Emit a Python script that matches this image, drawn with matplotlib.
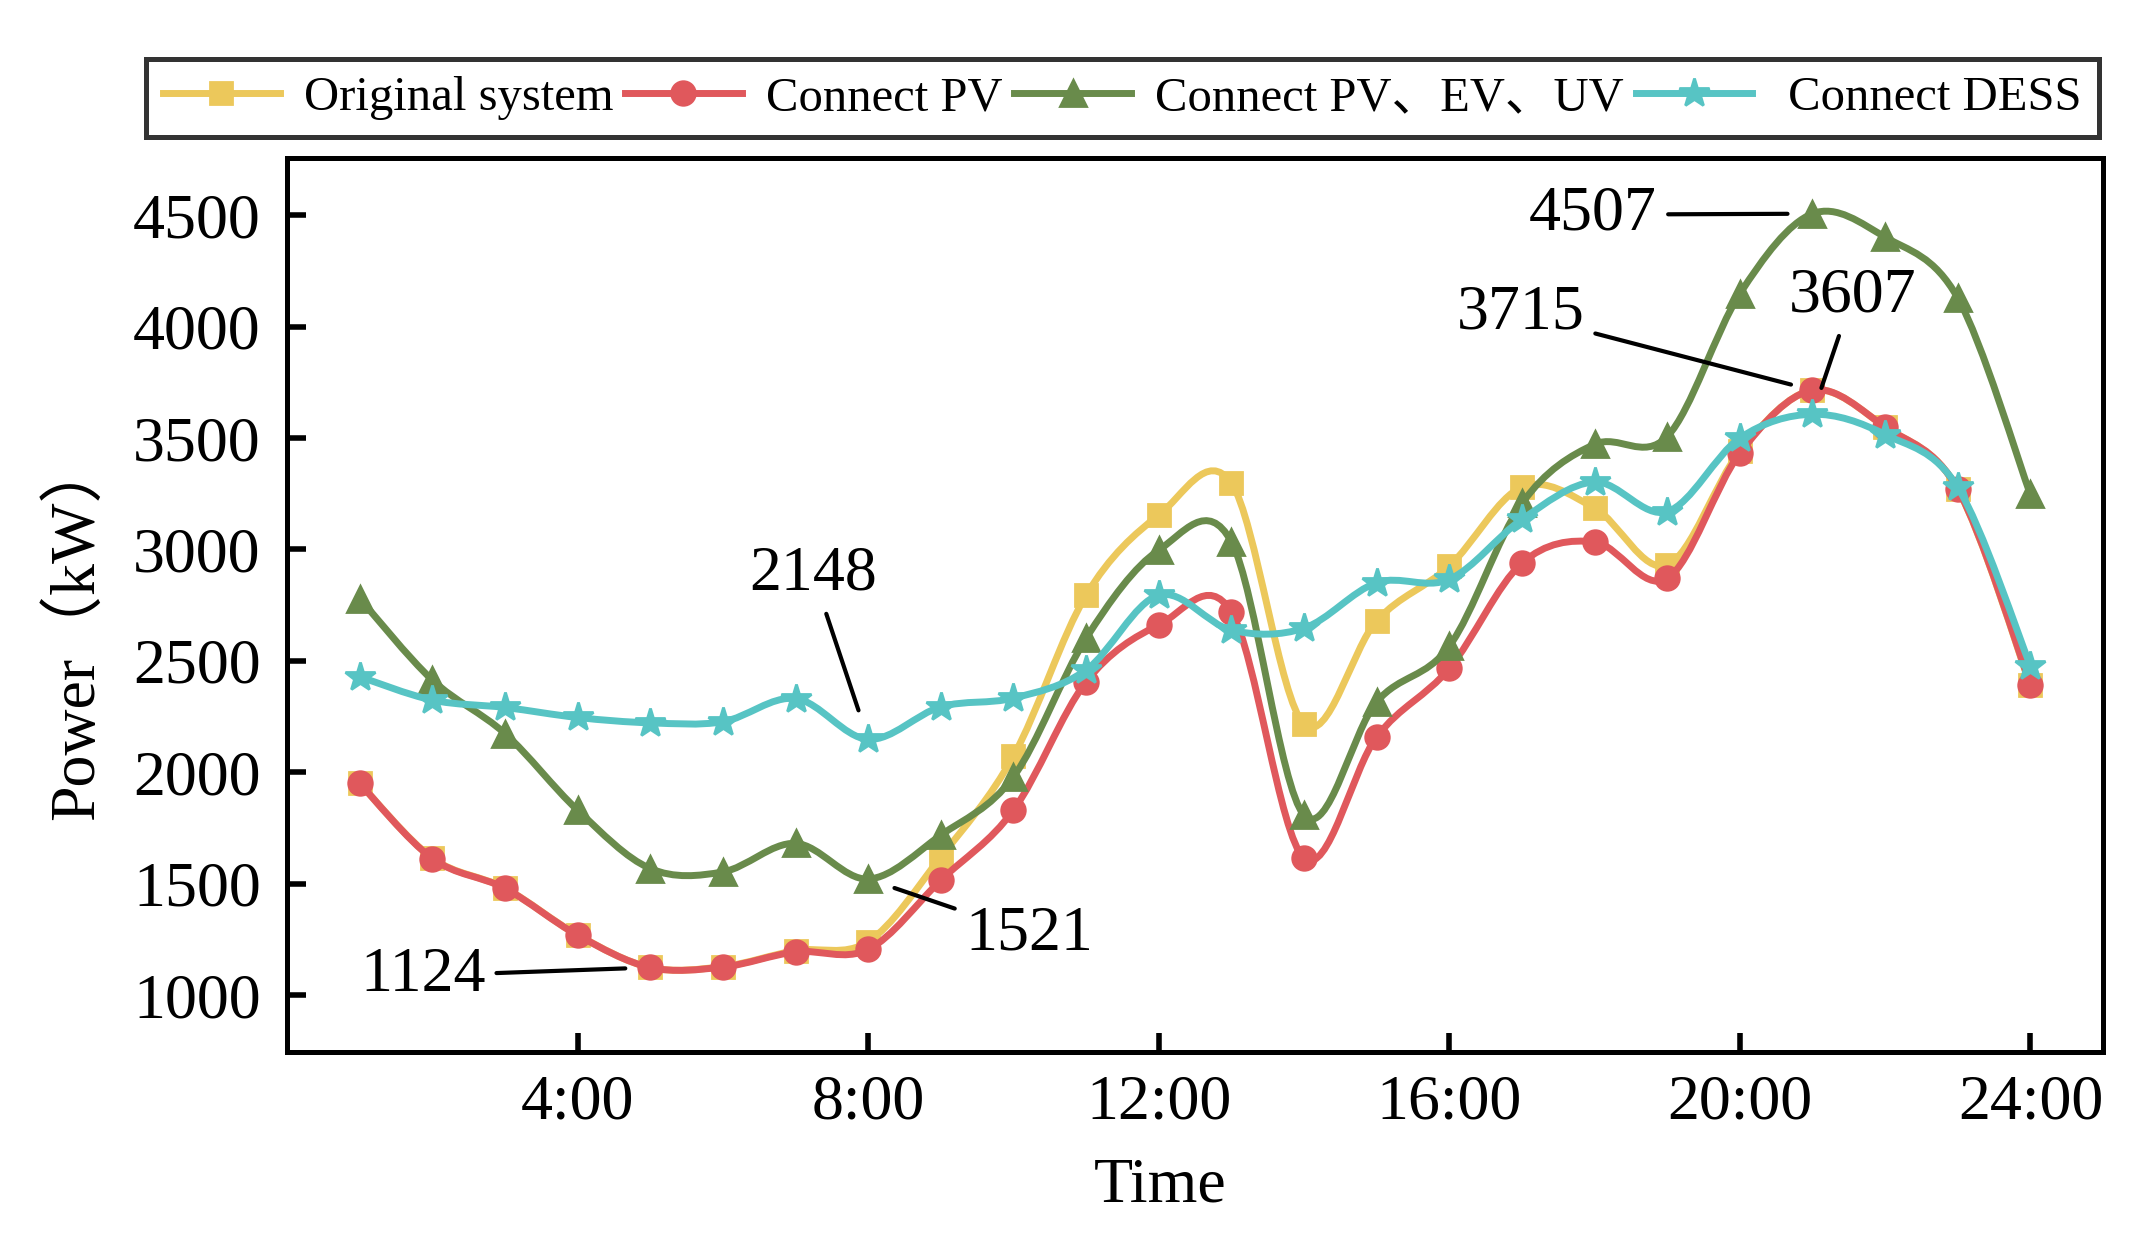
import numpy as np
import matplotlib
matplotlib.use("Agg")
import matplotlib.pyplot as plt
from matplotlib.path import Path
from matplotlib.patches import PathPatch
from matplotlib.lines import Line2D

plt.rcParams['font.family'] = ['Liberation Serif', 'Noto Sans CJK SC']

hours = list(range(1, 25))
tick_hours = [4, 8, 12, 16, 20, 24]
tick_labels = ["4:00", "8:00", "12:00", "16:00", "20:00", "24:00"]

original = [1950, 1615, 1480, 1270, 1124, 1128, 1200, 1240, 1620, 2073, 2795, 3154,
            3298, 2216, 2680, 2925, 3280, 3186, 2930, 3440, 3715, 3550, 3270, 2390]
pv = [1950, 1613, 1479, 1269, 1124, 1126, 1194, 1205, 1516, 1830, 2406, 2661,
      2720, 1615, 2159, 2466, 2939, 3034, 2870, 3432, 3715, 3550, 3271, 2394]
pv_ev_uv = [2780, 2414, 2174, 1830, 1568, 1553, 1681, 1521, 1718, 1980, 2602, 2997,
            3035, 1808, 2316, 2566, 3207, 3472, 3507, 4148, 4507, 4402, 4129, 3247]
dess = [2429, 2324, 2291, 2246, 2222, 2227, 2331, 2148, 2294, 2333, 2459, 2795,
        2638, 2647, 2851, 2866, 3135, 3303, 3170, 3500, 3607, 3516, 3279, 2478]

series = [
    ("Original system", original, '#ECC85B', 's', 8),
    ("Connect PV", pv, '#E0585C', 'o', 8.5),
    ("Connect PV、EV、UV", pv_ev_uv, '#698B4B', '^', 9.5),
    (" Connect DESS", dess, '#57C4C4', '*', 11),
]

# (label, point, text position, ha, shrinkB)
notes = [
    ("4507", (21, 4507), (18.86, 4503), 'right', 9),
    ("3715", (21, 3715), (17.86, 4057), 'right', 8),
    ("3607", (21, 3607), (21.55, 4137), 'center', 10),
    ("2148", (8, 2148), (7.24, 2890), 'center', 11),
    ("1521", (8, 1521), (9.34, 1274), 'left', 10),
    ("1124", (5, 1124), (2.73, 1087), 'right', 9),
]


def smooth_path(x, y):
    pts = np.column_stack([x, y]).astype(float)
    n = len(pts)
    verts = [pts[0]]
    codes = [Path.MOVETO]
    for i in range(n - 1):
        p0 = pts[max(i - 1, 0)]
        p1 = pts[i]
        p2 = pts[i + 1]
        p3 = pts[min(i + 2, n - 1)]
        verts += [p1 + (p2 - p0) / 6, p2 - (p3 - p1) / 6, p2]
        codes += [Path.CURVE4] * 3
    return Path(verts, codes)


fig = plt.figure(figsize=(10.72, 6.275), dpi=200)
ax = fig.add_axes([0.1339, 0.1618, 0.8470, 0.7123])

handles = []
for k, (name, vals, col, mk, ms) in enumerate(series):
    ax.add_patch(PathPatch(smooth_path(hours, vals), fill=False, edgecolor=col,
                           lw=2.5, joinstyle='round', capstyle='round', zorder=2 + k))
    ax.plot(hours, vals, linestyle='none', marker=mk, ms=ms, color=col,
            mec=col, zorder=2 + k)
    handles.append(Line2D([], [], color=col, lw=2.5, marker=mk, ms=ms, mec=col))

for txt, xy, xyt, ha, sb in notes:
    ax.annotate(txt, xy=xy, xytext=xyt, ha=ha, va='center', fontsize=23,
                arrowprops=dict(arrowstyle='-', color='black', lw=1.5,
                                shrinkA=2, shrinkB=sb), zorder=10)

ax.set_xlim(0, 25)
ax.set_ylim(745, 4757)
ax.set_xticks(tick_hours)
ax.set_xticklabels(tick_labels)
ax.set_yticks(range(1000, 5000, 500))
ax.tick_params(axis='both', direction='in', length=6.8, width=2, labelsize=23,
               top=False, right=False)
ax.tick_params(axis='y', pad=9.5)
ax.tick_params(axis='x', pad=8)
for sp in ax.spines.values():
    sp.set_linewidth(1.8)

ax.set_xlabel("Time", fontsize=23)
ax.xaxis.set_label_coords(0.481, -0.118)
ax.set_ylabel("Power（kW）", fontsize=23)
ax.yaxis.set_label_coords(-0.099, 0.474)

leg = fig.legend(handles, [s[0] for s in series], loc='center',
                 bbox_to_anchor=(146 / 2144, 1 - 140 / 1255, 1953 / 2144, 84 / 1255),
                 mode='expand', ncol=4, fontsize=17.5, frameon=True, fancybox=False,
                 edgecolor='black', handlelength=2.4, handletextpad=0.5,
                 columnspacing=0.3, borderpad=0.35, borderaxespad=0, numpoints=1)
leg.get_frame().set_linewidth(1.8)

fig.savefig("out.png", dpi=200)
